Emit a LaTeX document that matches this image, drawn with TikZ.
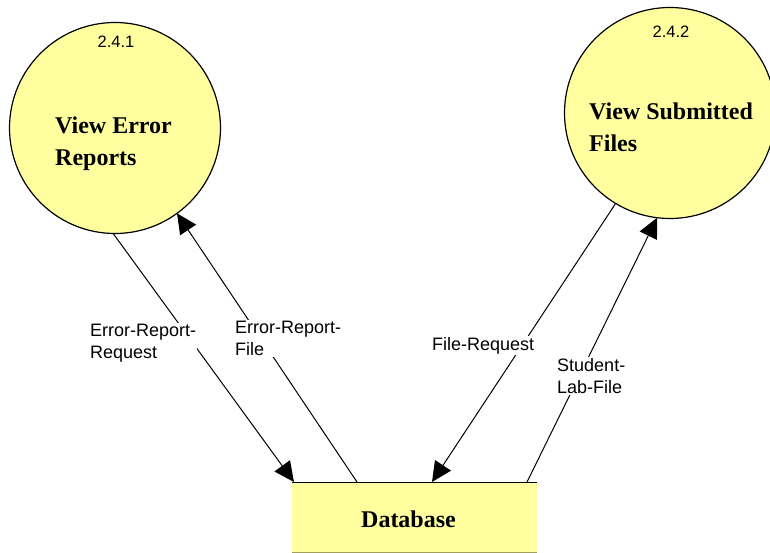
\documentclass[tikz,border=0pt]{standalone}
\usepackage{fontspec}
\setmainfont{Liberation Serif}
\newfontfamily\flowfont{Liberation Sans}
\usetikzlibrary{arrows.meta,calc}
\definecolor{bubble}{RGB}{255,255,160}
\definecolor{storeline}{RGB}{160,160,90}
\tikzset{
  proc/.style={circle,draw,line width=1.2pt,fill=bubble,minimum size=211pt,inner sep=0pt,outer sep=0pt},
  procnum/.style={font=\flowfont\fontsize{16.5}{18}\selectfont,inner sep=0pt},
  proctitle/.style={font=\bfseries\fontsize{24}{32}\selectfont,align=left,inner sep=0pt,anchor=west},
  flowlbl/.style={font=\flowfont\fontsize{18}{22.5}\selectfont,align=left,fill=white,inner sep=1pt,anchor=west},
  store/.style={fill=bubble,minimum width=245pt,minimum height=70pt,inner sep=0pt,outer sep=0pt}
}
\begin{document}
\begin{tikzpicture}[x=1pt,y=-1pt,>={Triangle[length=20pt,width=19pt]},line join=round]
\useasboundingbox (0,0) rectangle (770,553);
% processes and store
\node[proc] (err) at (115,128) {};
\node[proc] (sub) at (670,113) {};
\node[store] (db) at (414.5,517) {};
\draw[line width=1pt] (db.north west) -- (db.north east);
\draw[storeline,line width=1pt] (db.south west) -- (db.south east);
\node[procnum] (errnum) at (116,42) {2.4.1};
\node[procnum] (subnum) at (671,32) {2.4.2};
\node[proctitle] (errtitle) at (55,143.5) {View Error\\Reports};
\node[proctitle] (subtitle) at (589,127.5) {View Submitted\\Files};
\node[font=\bfseries\fontsize{24}{28}\selectfont,inner sep=0pt] (dbtitle) at (408.5,519) {Database};
% ends on the store
\path
 ($(db.north west)+(2,0)$) coordinate (reqin)
 ($(db.north west)+(65,0)$) coordinate (fileout)
 ($(db.north west)+(140,0)$) coordinate (freqin)
 ($(db.north west)+(235,0)$) coordinate (labout);
% flows
\draw[->,line width=1pt] (err.269) -- (reqin);
\draw[->,line width=1pt] (fileout) -- (err.-54);
\draw[->,line width=1pt] (sub.-121) -- (freqin);
\draw[->,line width=1pt] (labout) -- (sub.-97);
\node[flowlbl] (reqlbl) at (89,343) {Error-Report-\\Request};
\node[flowlbl] (filelbl) at (234,338.5) {Error-Report-\\File};
\node[flowlbl] (freqlbl) at (431,345.5) {File-Request};
\node[flowlbl] (lablbl) at (556,376) {Student-\\Lab-File};
\end{tikzpicture}
\end{document}
